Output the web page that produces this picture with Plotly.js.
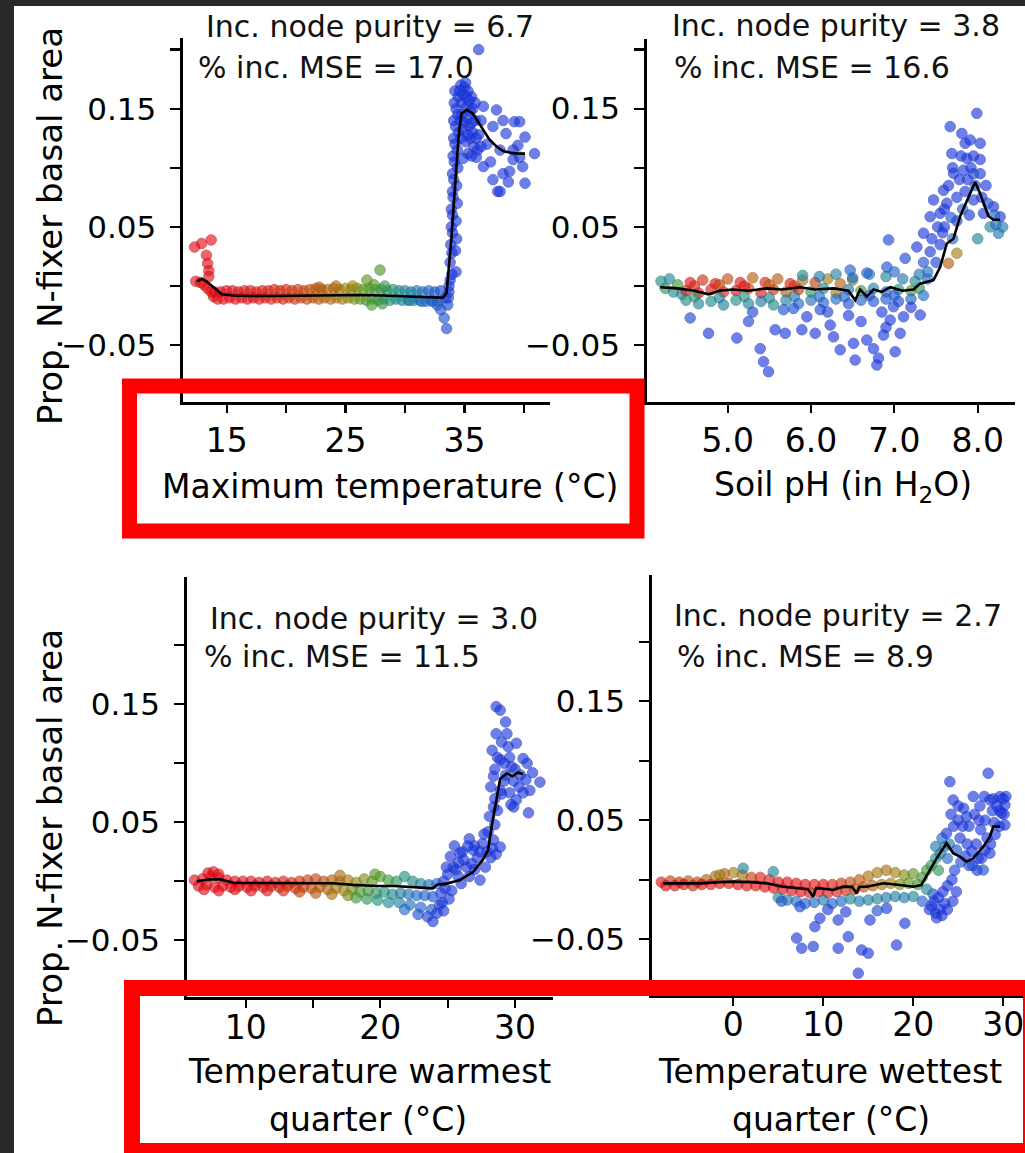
<!DOCTYPE html>
<html><head><meta charset="utf-8">
<script src="https://cdn.plot.ly/plotly-3.0.1.min.js"></script>
<style>html,body{margin:0;padding:0;background:#fff;}#chart{width:1025px;height:1153px;}</style>
</head><body><div id="chart"></div>
<script>
// ---------- DATA (x, y, colour index 0=red .. 1=blue) ----------
const yTickVals = [-0.05, 0.05, 0.15];
const yTickText = ['\u22120.05', '0.05', '0.15'];
const yMinorVals = [0, 0.1, 0.2];

const maxTempTickVals = [15, 25, 35];
const maxTempTickText = ['15', '25', '35'];
const maxTempMinorVals = [20, 30, 40];
const soilPhTickVals = [5, 6, 7, 8];
const soilPhTickText = ['5.0', '6.0', '7.0', '8.0'];
const soilPhMinorVals = [];
const warmQTickVals = [10, 20, 30];
const warmQTickText = ['10', '20', '30'];
const warmQMinorVals = [15, 25];
const wetQTickVals = [0, 10, 20, 30];
const wetQTickText = ['0', '10', '20', '30'];
const wetQMinorVals = [];

const panelStats = [
  ['Inc. node purity = 6.7', '% inc. MSE = 17.0'],
  ['Inc. node purity = 3.8', '% inc. MSE = 16.6'],
  ['Inc. node purity = 3.0', '% inc. MSE = 11.5'],
  ['Inc. node purity = 2.7', '% inc. MSE = 8.9']
];
const xTitles = [
  ['Maximum temperature (°C)'],
  ['Soil pH (in H<sub>2</sub>O)'],
  ['Temperature warmest', 'quarter (°C)'],
  ['Temperature wettest', 'quarter (°C)']
];
const yTitle = 'Prop. N-fixer basal area';

const maxTempLine = [[12.5,0.004],[12.9,0.006],[13.3,0.004],[13.9,-0.001],[14.6,-0.007],[15.5,-0.008],[17,-0.0085],[19,-0.0085],[21,-0.0082],[23,-0.008],[25,-0.0078],[26.5,-0.0076],[28,-0.008],[30,-0.009],[32,-0.0095],[33.2,-0.0098],[33.5,-0.006],[33.9,0.04],[34.3,0.095],[34.5,0.125],[34.75,0.146],[35.2,0.149],[35.7,0.146],[36.1,0.14],[36.6,0.132],[37.1,0.124],[37.7,0.118],[38.3,0.114],[38.8,0.113],[39.5,0.112],[40.1,0.112]];
const maxTempPts = [
[12.3,0.033,0],[12.9,0.036,0],[13.7,0.039,0],[13.3,0.026,0],[13.4,0.019,0],[13.5,0.013,0],[13.5,0.008,0],[12.4,0.004,0],[12.8,0.003,0],[13.1,0.001,0],[13.4,-0.002,0],[13.7,-0.005,0],[13.9,-0.009,0],
[14,-0.005,0],[14.5,-0.005,0],[15,-0.004,0],[15.5,-0.004,0.02],[16,-0.005,0],[16.5,-0.004,0.03],[17,-0.004,0.02],[17.5,-0.005,0.05],[18,-0.004,0.04],[18.5,-0.004,0.08],[19,-0.003,0.1],[19.5,-0.004,0.12],[20,-0.003,0.15],[20.5,-0.004,0.17],[21,-0.003,0.2],[21.5,-0.004,0.22],[22,-0.003,0.25],[22.5,-0.002,0.27],[23,-0.003,0.3],[23.5,-0.003,0.32],[24,-0.002,0.34],[24.5,-0.003,0.37],[25,-0.002,0.4],[25.5,-0.003,0.43],[26,-0.002,0.46],[26.5,-0.003,0.5],[27,-0.002,0.52],[27.5,-0.003,0.55],[28,-0.003,0.58],[28.5,-0.004,0.6],[29,-0.003,0.63],[29.5,-0.004,0.66],[30,-0.004,0.7],[30.5,-0.005,0.72],[31,-0.004,0.75],[31.5,-0.005,0.78],[32,-0.004,0.82],[32.5,-0.005,0.86],[33,-0.004,0.9],
[14.25,-0.011,0],[14.75,-0.011,0],[15.25,-0.01,0],[15.75,-0.011,0],[16.25,-0.01,0.02],[16.75,-0.011,0],[17.25,-0.01,0.03],[17.75,-0.011,0.06],[18.25,-0.01,0.07],[18.75,-0.011,0.1],[19.25,-0.01,0.12],[19.75,-0.011,0.14],[20.25,-0.01,0.17],[20.75,-0.011,0.19],[21.25,-0.01,0.22],[21.75,-0.011,0.24],[22.25,-0.01,0.26],[22.75,-0.011,0.29],[23.25,-0.01,0.31],[23.75,-0.011,0.34],[24.25,-0.01,0.36],[24.75,-0.011,0.4],[25.25,-0.01,0.43],[25.75,-0.011,0.46],[26.25,-0.011,0.49],[26.75,-0.012,0.52],[27.25,-0.011,0.55],[27.75,-0.012,0.58],[28.25,-0.011,0.61],[28.75,-0.012,0.64],[29.25,-0.011,0.67],[29.75,-0.012,0.7],[30.25,-0.012,0.72],[30.75,-0.012,0.75],[31.25,-0.012,0.78],[31.75,-0.013,0.82],[32.25,-0.012,0.85],[32.75,-0.013,0.9],
[26.8,0.005,0.5],[27.9,0.0135,0.53],[27.4,0.001,0.52],[25.6,0.0,0.42],[24.2,0.0,0.33],[22.8,-0.001,0.28],[28.3,0.0,0.58],[27.2,-0.016,0.53],[28.1,-0.015,0.57],
[33.5,-0.036,0.95],[33.3,-0.027,0.9],[33.0,-0.02,0.88],[32.7,-0.016,0.85],[33.6,-0.016,0.95],[33.4,-0.01,0.92],[32.3,-0.013,0.82],[31.4,-0.013,0.76],[30.4,-0.012,0.7],[33.7,-0.005,1],
[33.8,0.005,1],[33.8,0.02,1],[33.85,0.035,1],[33.9,0.05,1],[33.9,0.065,1],[34.0,0.08,1],[34.0,0.095,1],[34.05,0.11,1],[34.1,0.125,1],[34.1,0.14,1],[34.15,0.155,1],[34.2,0.165,1],[34.3,0.012,1],[34.35,0.04,1],[34.4,0.07,1],[34.45,0.1,1],[34.5,0.13,1],[34.5,0.16,1],
[33.95,0.01,1],[33.95,0.028,1],[34.0,0.045,1],[34.0,0.06,1],[34.05,0.075,1],[34.1,0.09,1],[34.15,0.105,1],[34.2,0.12,1],[34.25,0.135,1],[34.3,0.15,1],[34.25,0.03,1],[34.3,0.055,1],[34.35,0.085,1],[34.4,0.115,1],[34.45,0.145,1],[33.7,0.0,1],[33.65,-0.01,0.95],
[34.7,0.17,1],[35.0,0.168,1],[35.3,0.165,1],[35.6,0.16,1],[34.8,0.155,1],[35.2,0.152,1],[35.5,0.148,1],[35.9,0.155,1],[34.65,0.14,1],[35.0,0.138,1],[35.4,0.135,1],[35.9,0.14,1],[34.7,0.125,1],[35.1,0.122,1],[35.5,0.125,1],[35.8,0.118,1],[36.2,0.128,1],[35.3,0.112,1],[34.9,0.108,1],[36.2,0.2,1],
[34.9,0.162,1],[35.15,0.16,1],[35.4,0.157,1],[35.7,0.15,1],[34.8,0.145,1],[35.25,0.143,1],[35.6,0.138,1],[34.85,0.132,1],[35.3,0.128,1],[35.7,0.13,1],[36.0,0.125,1],[36.4,0.14,1],[36.1,0.115,1],[35.6,0.11,1],[36.4,0.118,1],[34.6,0.165,1],[35.1,0.172,1],
[36.6,0.152,1],[37.7,0.149,1],[37.4,0.135,1],[36.0,0.109,1],[36.6,0.101,1],[37.4,0.09,1],[37.8,0.08,1],[38.25,0.095,1],[39.1,0.107,1],[39.2,0.139,1],[39.5,0.119,1],[38.25,0.14,1],[38.5,0.129,1],[39.65,0.139,1],[40.1,0.126,1],[40.9,0.112,1],[39.65,0.109,1],[39.9,0.101,1],[38.8,0.097,1],[40.1,0.087,1],[38.7,0.088,1],[38.0,0.08,1],[39.1,0.115,1],[36.9,0.12,1],[37.2,0.105,1],[38.0,0.115,1]
];

const soilPhLine = [[4.19,-0.001],[4.4,-0.002],[4.6,-0.004],[4.77,-0.007],[4.9,-0.004],[5.06,-0.003],[5.25,-0.004],[5.47,-0.002],[5.65,-0.003],[5.87,-0.001],[6.05,-0.003],[6.27,-0.002],[6.45,-0.004],[6.53,-0.012],[6.59,-0.003],[6.67,-0.009],[6.75,-0.003],[6.85,-0.005],[6.95,-0.001],[7.1,-0.004],[7.23,-0.003],[7.31,0.002],[7.47,0.005],[7.55,0.016],[7.63,0.036],[7.71,0.04],[7.79,0.059],[7.91,0.078],[7.97,0.088],[8.03,0.078],[8.13,0.059],[8.19,0.056],[8.27,0.056]];
const soilPhPts = [
[4.2,0.004,0.65],[4.25,-0.002,0.6],[4.3,0.006,0.7],[4.35,-0.005,0.68],[4.4,0.001,0.55],[4.45,-0.007,0.7],
[4.55,0.003,0.05],[4.7,0.005,0.15],[4.85,0.002,0.0],[5.0,0.006,0.25],[5.15,0.003,0.05],[5.3,0.007,0.3],[5.45,0.003,0.1],[5.6,0.006,0.28],[5.75,0.002,0.05],[5.9,0.005,0.35],[6.05,0.003,0.2],[6.2,0.006,0.4],[6.35,0.002,0.3],[6.5,0.005,0.45],
[4.5,-0.004,0.1],[4.65,-0.006,0.0],[4.8,-0.003,0.05],[4.95,-0.005,0.1],[5.1,-0.004,0.0],[5.25,-0.002,0.2],[5.4,-0.006,0.05],[5.55,-0.003,0.15],[5.7,-0.005,0.3],[5.85,-0.003,0.1],[6.0,-0.005,0.6],[6.15,-0.002,0.7],[6.3,-0.006,0.4],[6.45,-0.003,0.75],[6.6,-0.004,0.55],[6.75,-0.002,0.7],[6.9,-0.005,0.8],[7.05,-0.003,0.65],[7.2,-0.004,0.5],[7.3,-0.002,0.6],
[4.6,0.0,0.1],[4.9,0.001,0.2],[5.2,0.0,0.05],[5.5,0.001,0.3],[5.8,0.0,0.15],[4.6,-0.009,0.6],[4.9,-0.01,0.7],[5.2,-0.009,0.65],[5.5,-0.01,0.7],[5.8,-0.009,0.75],[6.1,-0.009,0.8],[6.4,-0.009,0.85],[6.7,-0.008,0.9],[7.0,-0.008,0.9],
[4.5,-0.012,0.65],[4.65,-0.015,0.7],[4.8,-0.013,0.68],[4.95,-0.016,0.72],[5.1,-0.012,0.66],[5.25,-0.015,0.7],[5.4,-0.013,0.75],[5.55,-0.016,0.68],[5.7,-0.012,0.72],[5.85,-0.015,0.8],[6.0,-0.012,0.78],[6.15,-0.014,0.85],[6.3,-0.011,0.8],[6.45,-0.015,0.9],[6.6,-0.012,0.85],[6.75,-0.013,0.9],[6.9,-0.011,0.88],[7.05,-0.013,0.92],[7.2,-0.011,0.85],[7.35,-0.008,0.8],
[5.9,0.009,0.7],[6.1,0.008,0.75],[6.3,0.01,0.72],[6.5,0.007,0.8],[6.7,0.01,0.78],[6.9,0.008,0.7],[7.1,0.006,0.75],[7.25,0.004,0.7],[7.4,0.006,0.8],
[4.55,-0.027,0.95],[4.77,-0.04,1],[5.11,-0.044,1],[5.25,-0.03,0.95],[5.39,-0.053,1],[5.43,-0.064,1],[5.49,-0.0725,1],[5.57,-0.037,1],[5.69,-0.04,1],[5.67,-0.02,0.9],[5.79,-0.019,0.9],[5.89,-0.037,1],[6.05,-0.04,1],[6.11,-0.02,0.95],[6.23,-0.033,1],[6.27,-0.043,1],[6.35,-0.054,1],[6.51,-0.0485,1],[6.53,-0.0626,1],[6.67,-0.0457,1],[6.75,-0.053,1],[6.81,-0.061,1],[6.79,-0.0668,1],[6.87,-0.0415,1],[6.95,-0.0288,1],[7.01,-0.0556,1],[7.07,-0.04,1],[6.99,-0.0175,0.95],[7.11,-0.026,1],[7.31,-0.0245,1],[6.45,-0.025,1],[6.6,-0.03,1],[6.85,-0.022,1],[7.2,-0.018,1],[6.2,-0.022,0.95],[5.95,-0.026,1],[5.3,-0.022,0.95],[6.9,-0.035,1],
[6.93,0.039,0.95],[7.13,0.0234,0.95],[6.91,0.016,0.9],[6.67,0.011,0.85],[6.47,0.0135,0.85],[7.0,0.012,0.8],
[7.27,0.033,1],[7.35,0.0446,1],[7.43,0.0586,1],[7.47,0.0728,1],[7.59,0.081,1],[7.55,0.0615,1],[7.67,0.1348,1],[7.69,0.112,1],[7.71,0.0953,1],[7.63,0.07,1],[7.81,0.129,1],[7.85,0.1207,1],[7.83,0.098,1],[7.87,0.108,1],[7.91,0.1235,1],[7.99,0.146,1],[8.03,0.1207,1],[8.03,0.107,1],[8.03,0.095,1],[7.95,0.0728,1],[8.07,0.0615,1],[8.19,0.067,1],[8.27,0.0586,1],[8.25,0.0446,0.75],[8.15,0.05,0.7],[7.75,0.0277,0.4],[7.65,0.0192,0.3],[7.43,0.029,1],[7.5,0.02,0.95],[7.6,0.05,1],[7.75,0.055,1],[7.85,0.08,1],[7.95,0.095,0.9],[7.9,0.06,1],[8.1,0.085,1],[8.0,0.04,0.7],[7.7,0.04,0.8],[7.4,0.012,0.8],[7.55,0.035,1],[8.2,0.06,0.8],[7.95,0.11,1],[7.75,0.075,1],
[7.45,0.04,1],[7.52,0.05,1],[7.6,0.065,1],[7.65,0.085,1],[7.7,0.1,1],[7.78,0.09,1],[7.8,0.11,1],[7.88,0.09,1],[7.92,0.1,1],[7.97,0.085,0.95],[8.05,0.075,1],[8.12,0.07,0.9],[8.22,0.052,0.8],[8.3,0.05,0.75],[7.82,0.065,0.85],[7.68,0.058,0.9],[7.58,0.045,1],[7.35,0.02,0.9],[7.3,0.01,0.75]
];

const warmQLine = [[6.36,0.0],[7.2,0.0015],[8.1,0.0017],[9.1,-0.0012],[10.5,-0.0015],[12,-0.0017],[14,-0.0017],[16.5,-0.0017],[18,-0.003],[19.7,-0.004],[21,-0.004],[22.5,-0.005],[23.9,-0.006],[24.2,-0.003],[24.9,-0.002],[25.9,0.001],[26.9,0.008],[27.6,0.018],[28.0,0.0265],[28.26,0.046],[28.6,0.069],[28.9,0.087],[29.4,0.0915],[29.8,0.089],[30.2,0.092],[30.6,0.091]];
const warmQPts = [
[6.2,0.001,0],[6.8,0.002,0],[7.4,0.004,0],[8.0,0.003,0],[8.6,0.001,0],[9.2,0.0,0],[9.8,0.0,0.02],[10.4,0.0,0],[11.0,-0.001,0.03],[11.6,0.0,0],[12.2,-0.001,0.05],[12.8,0.0,0.08],[13.4,-0.001,0.12],[14.0,0.0,0.15],[14.6,0.001,0.2],[15.2,0.002,0.22],[15.8,0.0,0.25],[16.4,0.001,0.3],[17.0,0.0,0.33],[17.6,0.001,0.38],[18.2,-0.001,0.42],[18.8,0.002,0.46],[19.4,0.0,0.5],[20.0,0.004,0.52],[20.6,0.001,0.56],[21.2,0.0,0.6],[21.8,0.004,0.64],[22.4,0.0,0.68],[23.0,-0.002,0.72],[23.6,-0.003,0.78],[24.2,-0.002,0.82],
[6.5,-0.004,0],[7.1,-0.003,0],[7.7,-0.005,0],[8.3,-0.004,0],[8.9,-0.005,0],[9.5,-0.004,0],[10.1,-0.005,0.02],[10.7,-0.004,0],[11.3,-0.005,0.05],[11.9,-0.004,0.06],[12.5,-0.005,0.1],[13.1,-0.004,0.12],[13.7,-0.006,0.16],[14.3,-0.005,0.2],[14.9,-0.006,0.24],[15.5,-0.005,0.28],[16.1,-0.007,0.33],[16.7,-0.006,0.38],[17.3,-0.008,0.42],[17.9,-0.007,0.47],[18.5,-0.009,0.52],[19.1,-0.008,0.56],[19.7,-0.01,0.6],[20.3,-0.009,0.64],[20.9,-0.011,0.68],[21.5,-0.01,0.72],[22.1,-0.011,0.76],[22.7,-0.012,0.8],[23.3,-0.012,0.84],[23.9,-0.013,0.9],[24.5,-0.01,0.95],
[6.9,-0.007,0],[8.0,-0.008,0],[9.2,-0.007,0],[10.4,-0.008,0],[11.6,-0.008,0.03],[12.8,-0.008,0.1],[14.0,-0.009,0.2],[15.2,-0.01,0.28],[16.4,-0.011,0.36],[17.6,-0.012,0.45],
[18.2,-0.014,0.55],[19.0,-0.015,0.6],[19.8,-0.016,0.65],[20.6,-0.018,0.7],[21.4,-0.018,0.72],[22.2,-0.02,0.78],[23.0,-0.022,0.82],[23.8,-0.024,0.88],[24.4,-0.02,0.95],[21.8,-0.024,0.8],[22.8,-0.028,0.9],[23.5,-0.03,0.95],[23.9,-0.034,1],[24.2,-0.027,1],[24.6,-0.018,1],[24.8,-0.006,1],
[7.6,0.008,0],[7.2,0.007,0],[8.0,0.006,0],[17.0,0.005,0.35],[19.6,0.006,0.5],
[25.2,0.021,1],[25.9,0.024,1],[26.9,0.0265,1],[27.6,0.032,1],[28.4,0.035,1],[28.6,0.023,1],[26.4,0.012,1],[27.4,0.001,1],[27.8,0.012,1],[28.2,0.02,1],[25.0,0.006,1],[25.6,0.01,1],[26.2,0.018,1],[26.8,0.015,1],[27.2,0.02,1],[25.3,-0.008,1],[26.0,-0.002,1],[26.6,0.004,1],[28.0,0.042,1],[28.5,0.048,1],[27.0,0.03,1],[25.5,0.03,1],
[24.7,0.0,1],[25.4,0.012,1],[25.8,0.004,1],[26.1,0.025,1],[26.5,0.03,1],[27.0,0.01,1],[27.4,0.025,1],[27.9,0.025,1],[28.3,0.028,1],[27.7,0.04,1],[26.6,0.036,1],[25.8,0.016,1],[24.9,0.012,1],[25.1,-0.015,1],[24.7,-0.025,1],
[28.6,0.148,1],[28.6,0.125,1],[28.3,0.111,1],[28.9,0.103,1],[29.5,0.114,1],[28.4,0.089,1],[28.9,0.077,1],[29.6,0.075,1],[30.1,0.069,1],[28.9,0.145,1],[29.4,0.125,1],[30.1,0.117,1],[30.6,0.104,1],[29.75,0.097,1],[31.85,0.084,1],[31.1,0.077,1],[30.6,0.075,1],[29.9,0.063,1],[31.0,0.058,1],[29.0,0.074,1],[28.9,0.029,1],[29.2,0.085,1],[29.9,0.085,1],[30.4,0.09,1],[31.3,0.092,1],[28.7,0.06,1],[28.5,0.07,1],[29.2,0.1,1],[30.9,0.1,1],[29.0,0.118,1],
[28.1,0.055,1],[28.4,0.063,1],[28.2,0.08,1],[28.5,0.095,1],[28.7,0.105,1],[29.3,0.09,1],[29.6,0.105,1],[30.3,0.08,1],[29.7,0.065,1],[30.0,0.095,1],[30.8,0.086,1],[29.3,0.135,1]
];

const wetQLine = [[-7.8,-0.003],[-5.5,-0.003],[-3.7,-0.003],[-1.5,-0.002],[0.0,-0.0016],[2,-0.002],[3.7,-0.003],[5.56,-0.0058],[7.41,-0.0072],[8.3,-0.008],[8.89,-0.0142],[9.2,-0.007],[9.63,-0.0072],[11.1,-0.0086],[12.2,-0.0058],[13.2,-0.006],[13.7,-0.0114],[14.0,-0.006],[14.8,-0.0058],[16.7,-0.0029],[18.5,-0.0044],[20.0,-0.0058],[20.9,-0.0044],[21.85,0.0082],[22.6,0.018],[23.7,0.0307],[24.44,0.0223],[25.19,0.0194],[25.93,0.0152],[26.67,0.018],[27.78,0.0278],[28.52,0.0362],[28.9,0.0446],[29.63,0.0446]];
const wetQPts = [
[-8.0,-0.002,0.05],[-7.0,-0.001,0.2],[-6.0,-0.002,0.1],[-5.0,-0.001,0.25],[-4.0,-0.002,0.15],[-3.0,0.0,0.3],[-2.0,0.003,0.35],[-1.0,0.005,0.3],[0.0,0.006,0.4],[1.0,0.004,0.35],[2.0,0.002,0.2],[3.0,0.002,0.1],[4.0,0.0,0.05],[5.0,-0.002,0.0],[6.0,-0.002,0.0],[7.0,-0.003,0.02],[8.0,-0.004,0.0],[9.0,-0.004,0.05],[10.0,-0.004,0.0],[11.0,-0.004,0.1],[12.0,-0.003,0.15],[13.0,-0.002,0.25],[14.0,0.0,0.3],[15.0,0.003,0.35],[16.0,0.006,0.38],[17.0,0.008,0.35],[18.0,0.006,0.4],[19.0,0.004,0.45],[20.0,0.005,0.5],[21.0,0.002,0.55],
[-7.5,-0.005,0.0],[-6.5,-0.005,0.05],[-5.5,-0.004,0.0],[-4.5,-0.005,0.1],[-3.5,-0.004,0.0],[-2.5,-0.004,0.05],[-1.5,-0.003,0.0],[-0.5,-0.003,0.1],[0.5,-0.004,0.0],[1.5,-0.005,0.05],[2.5,-0.005,0.0],[3.5,-0.006,0.0],[4.5,-0.007,0.0],[5.5,-0.008,0.0],[6.5,-0.009,0.0],[7.5,-0.01,0.0],[8.5,-0.011,0.05],[9.5,-0.01,0.0],[10.5,-0.011,0.05],[11.5,-0.01,0.1],[12.5,-0.009,0.15],[13.5,-0.008,0.2],[14.5,-0.006,0.25],[15.5,-0.005,0.3],[16.5,-0.004,0.35],[17.5,-0.003,0.4],[18.5,-0.004,0.45],[19.5,-0.003,0.5],[20.5,-0.004,0.55],
[5.0,-0.015,0.7],[6.0,-0.017,0.75],[7.0,-0.018,0.8],[8.0,-0.02,0.85],[9.0,-0.019,0.8],[10.0,-0.017,0.75],[11.0,-0.02,0.85],[12.0,-0.018,0.8],[13.0,-0.016,0.7],[14.0,-0.018,0.75],[15.0,-0.017,0.72],[16.0,-0.016,0.7],[17.0,-0.015,0.75],[18.0,-0.014,0.72],[19.0,-0.015,0.75],[20.0,-0.014,0.7],[21.0,-0.018,0.85],[22.0,-0.022,0.95],[22.5,-0.028,1],[23.0,-0.025,1],[22.2,-0.012,0.9],[23.5,-0.02,1],[21.5,-0.008,0.7],
[1.1,0.0097,0.7],[4.44,0.0068,0.7],[-1.5,0.004,0.4],
[5.37,-0.018,0.9],[7.41,-0.0226,0.95],[7.04,-0.049,1],[7.6,-0.0575,1],[8.89,-0.056,1],[9.07,-0.0394,1],[9.63,-0.0323,1],[11.66,-0.0338,1],[11.66,-0.0575,1],[12.78,-0.0478,1],[13.89,-0.0785,1],[14.26,-0.059,1],[15.0,-0.0617,1],[15.19,-0.0338,1],[18.15,-0.0548,1],[19.07,-0.0365,1],[17.04,-0.024,1],[10.5,-0.025,1],[12.5,-0.027,1],[16.0,-0.026,0.9],
[21.5,0.008,0.55],[22.0,0.012,0.6],[22.5,0.018,0.65],[23.0,0.022,0.7],[23.5,0.028,0.72],[24.0,0.03,0.75],[22.8,0.008,0.6],[23.8,0.018,0.8],
[21.8,-0.025,1],[22.3,-0.018,1],[22.8,-0.015,1],[23.3,-0.01,1],[23.8,-0.005,1],[24.3,0.0,1],[22.6,-0.032,1],[23.2,-0.03,1],[23.8,-0.025,1],[24.4,-0.018,1],[24.8,-0.01,1],
[24.6,0.008,0.95],[25.3,0.015,0.9],[25.8,0.02,1],[26.6,0.012,0.95],[27.1,0.008,1],[27.6,0.018,1],[28.0,0.025,1],[28.6,0.03,1],[29.1,0.038,1],[29.6,0.045,1],[30.1,0.055,1],[25.0,0.05,1],[25.6,0.06,1],[26.2,0.045,1],[26.8,0.055,1],[27.3,0.05,1],[27.9,0.07,1],[28.9,0.068,1],[29.6,0.058,1],[30.3,0.07,1],[23.2,0.035,0.8],[22.5,0.028,0.75],
[24.07,0.0824,1],[24.44,0.067,1],[25.0,0.062,1],[23.7,0.039,1],[25.93,0.053,1],[26.67,0.07,1],[27.41,0.062,1],[28.33,0.0895,1],[28.52,0.067,1],[29.63,0.0698,1],[30.19,0.0628,1],[29.82,0.0558,1],[30.19,0.046,1],[28.52,0.0223,1],[27.78,0.0082,0.9],[24.5,0.045,1],[25.2,0.035,1],[26.0,0.03,1],[26.5,0.024,1],[27.0,0.03,1],[27.5,0.042,1],[28.0,0.05,1],[28.8,0.058,1],[29.3,0.062,1],[30.0,0.068,1],[29.0,0.048,1],[24.2,0.055,1],[25.5,0.045,1],[26.2,0.012,0.9],[24.8,0.025,0.9],[27.2,0.018,1],[28.2,0.035,1]
];

// ---------- LAYOUT (pixels -> paper) ----------
const W = 1025, H = 1153;
const px = v => v / W;
const py = v => 1 - v / H;
const FONT = 'DejaVu Sans, Verdana, sans-serif';

const rainbow = [[0,'rgb(228,14,22)'],[0.15,'rgb(212,46,16)'],[0.3,'rgb(186,96,14)'],[0.42,'rgb(158,136,16)'],[0.52,'rgb(80,156,36)'],[0.65,'rgb(30,148,128)'],[0.8,'rgb(32,108,200)'],[1,'rgb(28,56,222)']];
const rainbowEdge = [[0,'rgb(190,10,16)'],[0.15,'rgb(176,36,10)'],[0.3,'rgb(150,76,10)'],[0.42,'rgb(128,110,10)'],[0.52,'rgb(60,128,28)'],[0.65,'rgb(22,120,104)'],[0.8,'rgb(24,86,170)'],[1,'rgb(22,44,190)']];

const panels = [
  {pts: maxTempPts, line: maxTempLine, xd:[183,550], yd:[38,402], xr:[11.33,42.2], yr:[-0.0981,0.2098], tv:maxTempTickVals, tt:maxTempTickText, mv:maxTempMinorVals, so:0,
   stat:[[204,26],[196,67]], titles:[[390,486]]},
  {pts: soilPhPts, line: soilPhLine, xd:[646.7,1015], yd:[39,402], xr:[4.028,8.448], yr:[-0.0981,0.2089], tv:soilPhTickVals, tt:soilPhTickText, mv:soilPhMinorVals, so:0,
   stat:[[670,25],[672,67]], titles:[[843,486]]},
  {pts: warmQPts, line: warmQLine, xd:[186.7,553], yd:[576.7,997.3], xr:[5.62,32.82], yr:[-0.0983,0.2581], tv:warmQTickVals, tt:warmQTickText, mv:warmQMinorVals, so:-9,
   stat:[[208,618],[202,656]], titles:[[369,1071],[368,1119]]},
  {pts: wetQPts, line: wetQLine, xd:[651.7,1023], yd:[575,995], xr:[-9.07,32.2], yr:[-0.0968,0.256], tv:wetQTickVals, tt:wetQTickText, mv:wetQMinorVals, so:-9,
   stat:[[672,615],[675,657]], titles:[[830,1071],[831,1119]]}
];

const traces = [];
const layout = {
  width: W, height: H,
  margin: {l:0, r:0, t:0, b:0, pad:0},
  paper_bgcolor: '#ffffff', plot_bgcolor: 'rgba(0,0,0,0)',
  showlegend: false, hovermode: false,
  font: {family: FONT, color: '#000000', size: 30},
  annotations: [], shapes: []
};

panels.forEach((p, i) => {
  const n = i === 0 ? '' : String(i + 1);
  const cols = p.pts.map(d => d[2]);
  traces.push({
    type: 'scatter', mode: 'markers', xaxis: 'x' + n, yaxis: 'y' + n,
    x: p.pts.map(d => d[0]), y: p.pts.map(d => d[1]),
    marker: {size: 10.5, color: cols, colorscale: rainbow, cmin: 0, cmax: 1, opacity: 0.64,
             line: {width: 1, color: cols, colorscale: rainbowEdge, cmin: 0, cmax: 1}},
    cliponaxis: false
  });
  traces.push({
    type: 'scatter', mode: 'lines', xaxis: 'x' + n, yaxis: 'y' + n,
    x: p.line.map(d => d[0]), y: p.line.map(d => d[1]),
    line: {color: '#000000', width: 2.6}, cliponaxis: false
  });
  layout['xaxis' + n] = {
    domain: [px(p.xd[0]), px(p.xd[1])], range: p.xr, anchor: 'y' + n,
    showgrid: false, zeroline: false, showline: true, linecolor: '#000', linewidth: 2.6,
    ticks: 'outside', ticklen: 8, tickwidth: 2.2, tickcolor: '#000',
    tickmode: 'array', tickvals: p.tv, ticktext: p.tt,
    minor: {tickmode: 'array', tickvals: p.mv, ticks: 'outside', ticklen: 8, tickwidth: 2.2, tickcolor: '#000', showgrid: false},
    tickfont: {family: FONT, size: 33, color: '#000'}, ticklabelstandoff: p.so, fixedrange: true
  };
  layout['yaxis' + n] = {
    domain: [py(p.yd[1]), py(p.yd[0])], range: p.yr, anchor: 'x' + n,
    showgrid: false, zeroline: false, showline: true, linecolor: '#000', linewidth: 2.6,
    ticks: 'outside', ticklen: 10, tickwidth: 2.2, tickcolor: '#000',
    tickmode: 'array', tickvals: yTickVals, ticktext: yTickText,
    minor: {tickmode: 'array', tickvals: yMinorVals, ticks: 'outside', ticklen: 10, tickwidth: 2.2, tickcolor: '#000', showgrid: false},
    tickfont: {family: FONT, size: 31, color: '#000'}, ticklabelstandoff: 8, fixedrange: true
  };
  panelStats[i].forEach((t, k) => {
    layout.annotations.push({xref:'paper', yref:'paper', x: px(p.stat[k][0]), y: py(p.stat[k][1]),
      xanchor:'left', yanchor:'middle', text: t, showarrow:false, font:{family: FONT, size: 30, color:'#111'}});
  });
  xTitles[i].forEach((t, k) => {
    layout.annotations.push({xref:'paper', yref:'paper', x: px(p.titles[k][0]), y: py(p.titles[k][1]),
      xanchor:'center', yanchor:'middle', text: t, showarrow:false, font:{family: FONT, size: 33, color:'#000'}});
  });
});

[226, 828].forEach(cy => {
  layout.annotations.push({xref:'paper', yref:'paper', x: px(50), y: py(cy), xanchor:'center', yanchor:'middle',
    text: yTitle, textangle: -90, showarrow:false, font:{family: FONT, size: 34, color:'#000'}});
});

// dark frame at left and top
layout.shapes.push({type:'rect', xref:'paper', yref:'paper', x0:0, x1:px(14), y0:0, y1:1, fillcolor:'#282828', line:{width:0}, layer:'above'});
layout.shapes.push({type:'rect', xref:'paper', yref:'paper', x0:0, x1:1, y0:py(6), y1:1, fillcolor:'#282828', line:{width:0}, layer:'above'});
// red highlight rectangles
layout.shapes.push({type:'rect', xref:'paper', yref:'paper', x0:px(129.5), x1:px(637), y0:py(531), y1:py(386), fillcolor:'rgba(0,0,0,0)', line:{color:'#ff0000', width:15}, layer:'above'});
layout.shapes.push({type:'rect', xref:'paper', yref:'paper', x0:px(132), x1:px(1031), y0:py(1151), y1:py(988), fillcolor:'rgba(0,0,0,0)', line:{color:'#ff0000', width:16}, layer:'above'});

Plotly.newPlot('chart', traces, layout, {staticPlot: true, displayModeBar: false});
</script></body></html>
